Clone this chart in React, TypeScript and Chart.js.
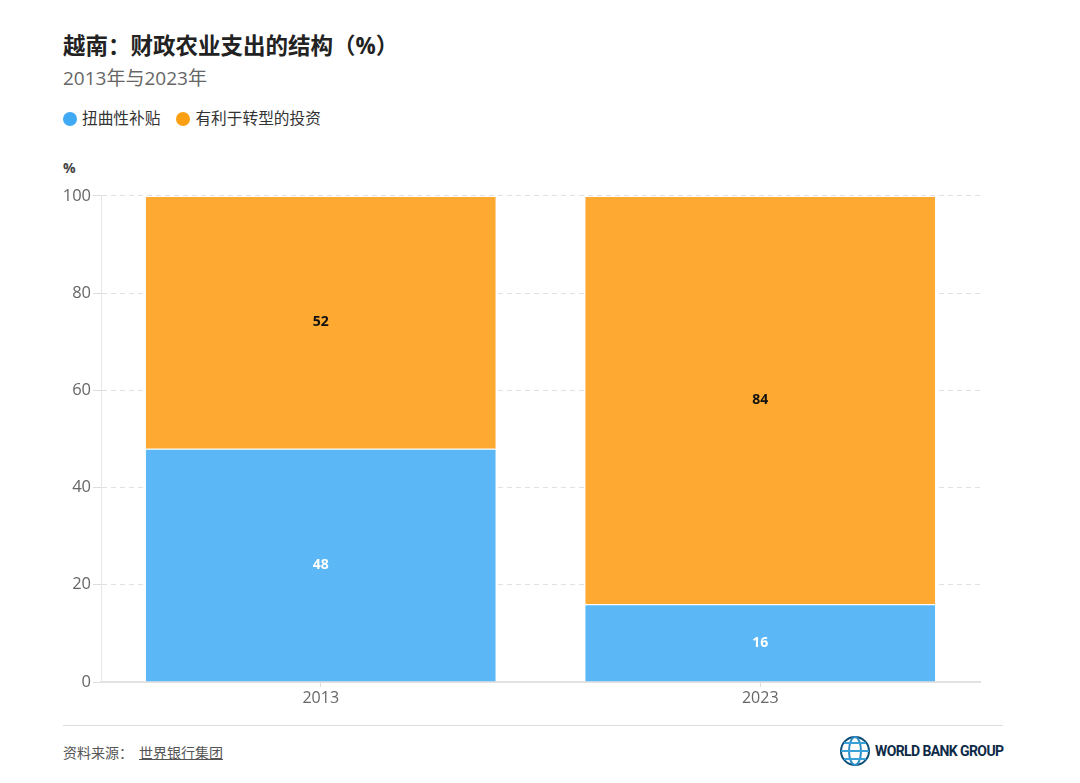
import { useEffect, useRef } from "react"
import { Chart, registerables, type Plugin } from "chart.js"

Chart.register(...registerables)

// Data
const years = ["2013", "2023"]
const distortingSubsidies = [48, 16] // 扭曲性补贴
const transformInvestment = [52, 84] // 有利于转型的投资
const yTicks = [0, 20, 40, 60, 80, 100]

const BLUE = "#5bb7f5"
const ORANGE = "#fea931"
const FONT = "'Open Sans', 'Noto Sans CJK SC', sans-serif"

// writes each value in the middle of its segment
const valueLabels: Plugin<"bar"> = {
  id: "valueLabels",
  afterDatasetsDraw(chart) {
    const { ctx } = chart
    ctx.save()
    ctx.font = `bold 14px ${FONT}`
    ctx.textAlign = "center"
    ctx.textBaseline = "middle"
    chart.data.datasets.forEach((ds, di) => {
      const meta = chart.getDatasetMeta(di)
      meta.data.forEach((bar: any, i) => {
        const y = (bar.y + bar.base) / 2
        ctx.fillStyle = di === 0 ? "#ffffff" : "#111111"
        ctx.fillText(String(ds.data[i]), bar.x, y)
      })
    })
    ctx.restore()
  },
}

export default function App() {
  const chartRef = useRef<HTMLCanvasElement>(null)
  const chartInstance = useRef<Chart | null>(null)

  useEffect(() => {
    document.body.style.margin = "0"
    if (!chartRef.current) return
    if (chartInstance.current) chartInstance.current.destroy()

    chartInstance.current = new Chart(chartRef.current, {
      type: "bar",
      data: {
        labels: years,
        datasets: [
          {
            label: "扭曲性补贴",
            data: distortingSubsidies,
            backgroundColor: BLUE,
            borderColor: "#ffffff",
            borderWidth: 1,
          },
          {
            label: "有利于转型的投资",
            data: transformInvestment,
            backgroundColor: ORANGE,
            borderColor: "#ffffff",
            borderWidth: 1,
          },
        ],
      },
      options: {
        animation: false,
        responsive: false,
        layout: { padding: { top: 10, right: 10, left: 0, bottom: 0 } },
        datasets: { bar: { barPercentage: 0.8, categoryPercentage: 1 } },
        scales: {
          x: {
            stacked: true,
            grid: { drawOnChartArea: false, offset: false, tickLength: 5, tickColor: "#dddddd" },
            border: { color: "#e2e2e2", width: 2 },
            ticks: { color: "#666666", font: { family: FONT, size: 16 }, padding: 2 },
            afterFit: (scale) => {
              scale.height = 33
            },
          },
          y: {
            stacked: true,
            min: 0,
            max: 100,
            afterBuildTicks: (scale) => {
              scale.ticks = yTicks.map((v) => ({ value: v }))
            },
            grid: { color: "#e0e0e0", tickLength: 8, tickColor: "#dddddd" },
            border: { display: true, color: "#e6e6e6", dash: [5, 4] },
            ticks: { color: "#666666", font: { family: FONT, size: 16.5 }, padding: 2 },
            afterFit: (scale) => {
              scale.width = 61
            },
          },
        },
        plugins: {
          legend: { display: false },
          tooltip: { enabled: false },
        },
      },
      plugins: [valueLabels],
    })

    return () => {
      if (chartInstance.current) {
        chartInstance.current.destroy()
        chartInstance.current = null
      }
    }
  }, [])

  const dot = (c: string) => (
    <span
      style={{
        display: "inline-block",
        width: 14,
        height: 14,
        borderRadius: 7,
        background: c,
        marginRight: 5,
        verticalAlign: "-2px",
      }}
    />
  )

  return (
    <div style={{ position: "relative", width: 1080, height: 783, background: "#fff", fontFamily: FONT }}>
      <div style={{ position: "absolute", left: 63, top: 28, fontSize: 22.5, fontWeight: 700, color: "#222" }}>
        越南：财政农业支出的结构（%）
      </div>
      <div style={{ position: "absolute", left: 63, top: 63, fontSize: 19, color: "#666" }}>2013年与2023年</div>
      <div style={{ position: "absolute", left: 63, top: 106, fontSize: 15.7, color: "#333" }}>
        {dot("#3fa9f4")}
        扭曲性补贴
        <span style={{ marginLeft: 16 }}>{dot("#fd9f12")}</span>
        有利于转型的投资
      </div>
      <div style={{ position: "absolute", left: 63, top: 158, fontSize: 14, fontWeight: 700, color: "#444" }}>%</div>
      <canvas
        ref={chartRef}
        width={950}
        height={531}
        style={{ position: "absolute", left: 40, top: 184, width: 950, height: 531 }}
      />
      <div style={{ position: "absolute", left: 63, top: 725, width: 940, height: 1, background: "#dedede" }} />
      <div style={{ position: "absolute", left: 63, top: 742, fontSize: 14, color: "#555" }}>
        资料来源：
        <span style={{ textDecoration: "underline", marginLeft: 6 }}>世界银行集团</span>
      </div>
      <div style={{ position: "absolute", left: 838, top: 734, display: "flex", alignItems: "center" }}>
        <svg width="34" height="34" viewBox="0 0 34 34">
          <g fill="none" stroke="#1a6e9e" strokeWidth="2">
            <circle cx="17" cy="17" r="14" stroke="#0b4f78" />
            <ellipse cx="17" cy="17" rx="6" ry="14" stroke="#2c8cc4" />
            <path d="M3 17 H31 M6 9 H28 M6 25 H28" stroke="#3aa0d8" />
          </g>
        </svg>
        <span
          style={{
            marginLeft: 3,
            fontSize: 14,
            fontWeight: 700,
            color: "#0e2a47",
            letterSpacing: -0.6,
            fontFamily: "'Roboto', 'Liberation Sans', sans-serif",
          }}
        >
          WORLD BANK GROUP
        </span>
      </div>
    </div>
  )
}
